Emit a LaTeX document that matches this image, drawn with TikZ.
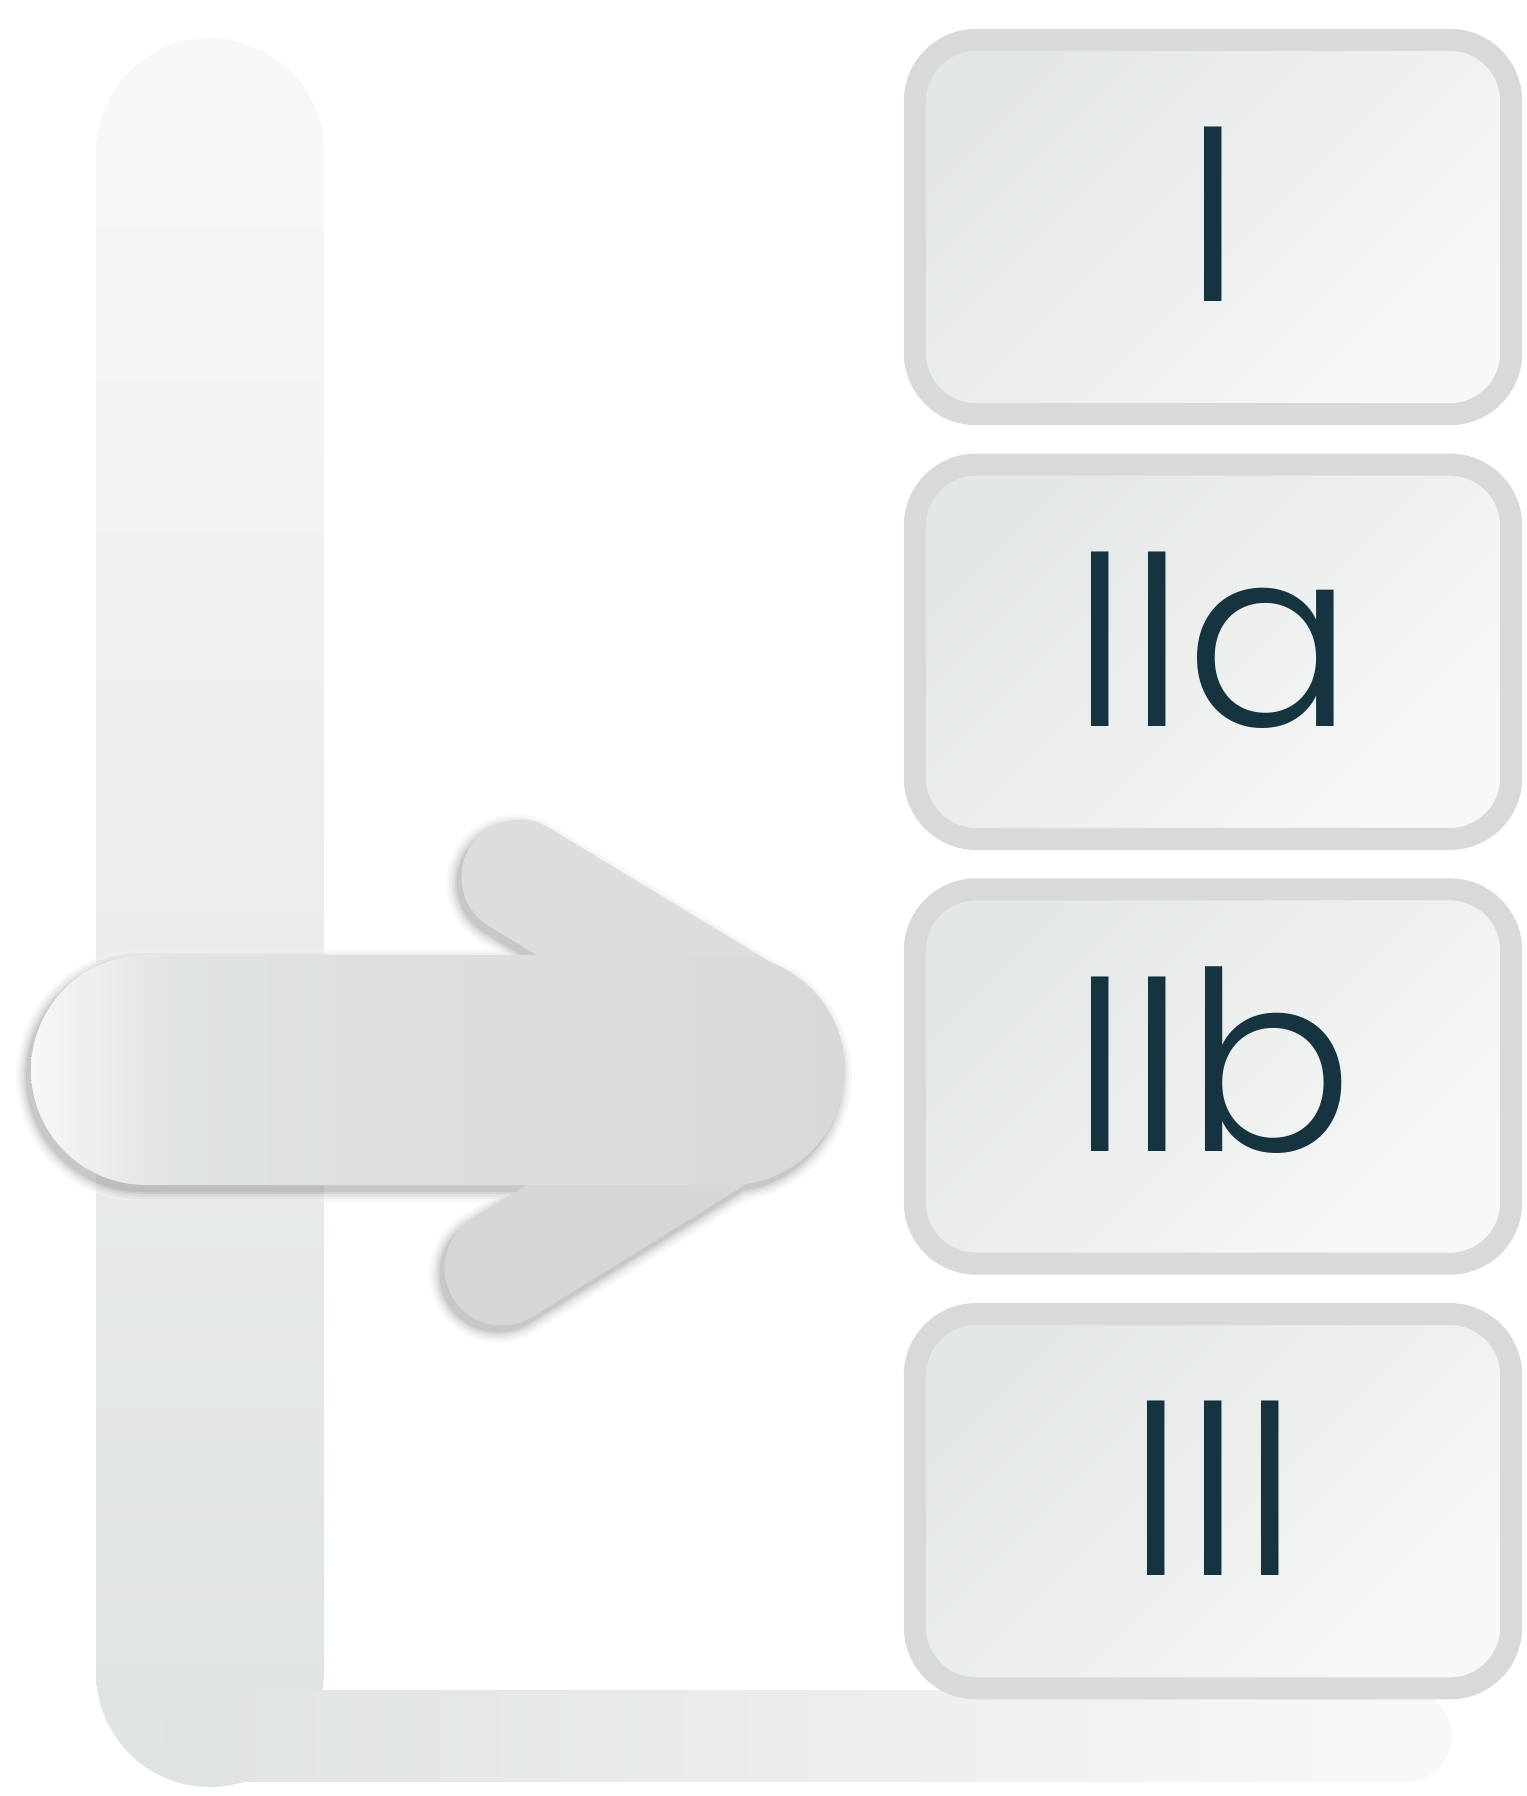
\documentclass[tikz,border=0pt]{standalone}
\usepackage{fontspec}
\setmainfont{Poppins}[UprightFont=*-Light]
\usepackage{tikz}
\usetikzlibrary{positioning}

\definecolor{barlight}{HTML}{F7F8F8}
\definecolor{bardark}{HTML}{E0E3E3}
\definecolor{boxline}{HTML}{D9D9D9}
\definecolor{boxdark}{HTML}{E4E7E7}
\definecolor{boxlight}{HTML}{F7F8F8}
\definecolor{labeltext}{HTML}{15343F}
\definecolor{arrowlight}{HTML}{F6F7F7}
\definecolor{arrowmid}{HTML}{E0E3E3}
\definecolor{arrowdark}{HTML}{D8D8D8}
\definecolor{armup}{HTML}{DCDEDE}
\definecolor{armlow}{HTML}{D6D6D6}

\pgfdeclarehorizontalshading{arrowshade}{100bp}{color(0bp)=(arrowlight); color(25bp)=(arrowlight);
    color(34bp)=(arrowmid); color(75bp)=(arrowdark); color(100bp)=(arrowdark)}

\begin{document}
\begin{tikzpicture}[
    x=0.01cm, y=-0.01cm,
    node distance=0.505cm,
    stage/.style={rectangle, draw=boxline, line width=0.22cm, rounded corners=0.61cm, outer sep=0pt,
        minimum width=5.96cm, minimum height=3.74cm, top color=boxdark, bottom color=boxlight, shading angle=45,
        text=labeltext, font=\fontsize{71}{80}\selectfont, text height=1.75cm, text depth=0.26cm},
    arm/.style={line width=1.15cm, line cap=round}
]
    \useasboundingbox (0,0) rectangle (1526,1796);

    % Axis bars
    \shade[top color=barlight, bottom color=bardark, rounded corners=1.14cm] (96,38) rectangle (324,1787);
    \shade[left color=bardark, right color=barlight, rounded corners=0.46cm] (163,1690) rectangle (1452,1782);

    % Arrow shadow
    \begin{scope}[transparency group, opacity=0.55, yshift=-0.06cm, xshift=-0.04cm]
        \foreach \w/\c in {0.22/6, 0.16/12, 0.11/20, 0.06/30, 0.02/40} {
            \draw[black!\c, line width=1.15cm+\w cm, line cap=round] (519,877) -- (758,1022);
            \draw[black!\c, line width=1.15cm+\w cm, line cap=round] (502,1268) -- (755,1111);
            \filldraw[black!\c, line width=\w cm, rounded corners=1.15cm] (31,955) rectangle (845,1185);
        }
    \end{scope}

    % Arrow
    \draw[arm, armup] (519,877) -- (758,1022);
    \draw[arm, armlow] (502,1268) -- (755,1111);
    \shade[shading=arrowshade, rounded corners=1.15cm] (31,955) rectangle (845,1185);

    % Stages
    \node[stage] (stI) at (1213,227) {I};
    \node[stage, below=of stI] (stIIa) {IIa};
    \node[stage, below=of stIIa] (stIIb) {IIb};
    \node[stage, below=of stIIb] (stIII) {III};
\end{tikzpicture}
\end{document}
